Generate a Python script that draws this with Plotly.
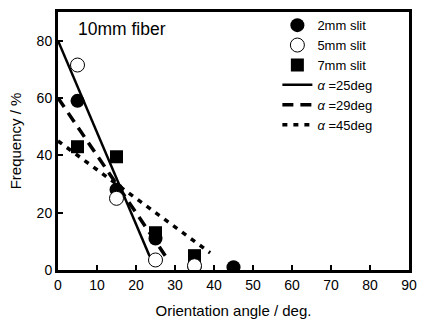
import plotly.graph_objects as go

angles = [5, 15, 25, 35, 45]
slit2 = [59, 28, 11, 1, 1]
slit5_x = [5, 15, 25, 35]
slit5 = [71.5, 25, 3.5, 1.5]
slit7_x = [5, 15, 25, 35]
slit7 = [43, 39.5, 13, 5]

a25_x = [0, 23.5]
a25_y = [80, 4.8]
a29_x = [0, 27.5]
a29_y = [60, 5]
a45_x = [0, 39]
a45_y = [45, 6]

FONT = "Liberation Sans"

fig = go.Figure()
fig.add_trace(go.Scatter(x=a25_x, y=a25_y, mode="lines", name="<i>α</i> =25deg",
                         line=dict(color="black", width=2.5), legendrank=4))
fig.add_trace(go.Scatter(x=a29_x, y=a29_y, mode="lines", name="<i>α</i> =29deg",
                         line=dict(color="black", width=3.5, dash="11px,7px"), legendrank=5))
fig.add_trace(go.Scatter(x=a45_x, y=a45_y, mode="lines", name="<i>α</i> =45deg",
                         line=dict(color="black", width=3.5, dash="5px,6px"), legendrank=6))
fig.add_trace(go.Scatter(x=angles, y=slit2, mode="markers", name="2mm slit",
                         marker=dict(symbol="circle", size=14, color="black"), legendrank=1))
fig.add_trace(go.Scatter(x=slit7_x, y=slit7, mode="markers", name="7mm slit",
                         marker=dict(symbol="square", size=13, color="black"), legendrank=3))
fig.add_trace(go.Scatter(x=slit5_x, y=slit5, mode="markers", name="5mm slit",
                         marker=dict(symbol="circle", size=14, color="white",
                                     line=dict(color="black", width=1)), legendrank=2))

fig.add_annotation(x=0.05, y=0.935, xref="paper", yref="paper", text="10mm fiber",
                   showarrow=False, xanchor="left", yanchor="middle",
                   font=dict(family=FONT, size=17.5, color="black"))

fig.update_xaxes(range=[0, 90], tickvals=list(range(0, 91, 10)), ticks="inside",
                 ticklen=5, tickwidth=2, tickcolor="black", showline=True, linewidth=3,
                 linecolor="black", mirror=True, showgrid=False, zeroline=False,
                 title=dict(text="Orientation angle / deg.", font=dict(family=FONT, size=15, color="black"),
                            standoff=14),
                 tickfont=dict(family=FONT, size=14, color="black"))
fig.update_yaxes(range=[0, 90], tickvals=[0, 20, 40, 60, 80], ticks="inside",
                 ticklen=5, tickwidth=2, tickcolor="black", showline=True, linewidth=3,
                 linecolor="black", mirror=True, showgrid=False, zeroline=False,
                 title=dict(text="Frequency / %", font=dict(family=FONT, size=15, color="black"),
                            standoff=12),
                 tickfont=dict(family=FONT, size=14, color="black"))

fig.update_layout(width=426, height=329, margin=dict(l=58, r=9, t=9, b=59),
                  plot_bgcolor="white", paper_bgcolor="white",
                  legend=dict(x=0.625, y=1.007, xanchor="left", yanchor="top",
                              bgcolor="rgba(0,0,0,0)", font=dict(family=FONT, size=13, color="black"),
                              tracegroupgap=0, itemwidth=30),
                  showlegend=True)

fig.write_html("out.html", config={"displayModeBar": False},
               post_script="document.body.style.margin='0px';document.body.style.overflow='hidden';")
